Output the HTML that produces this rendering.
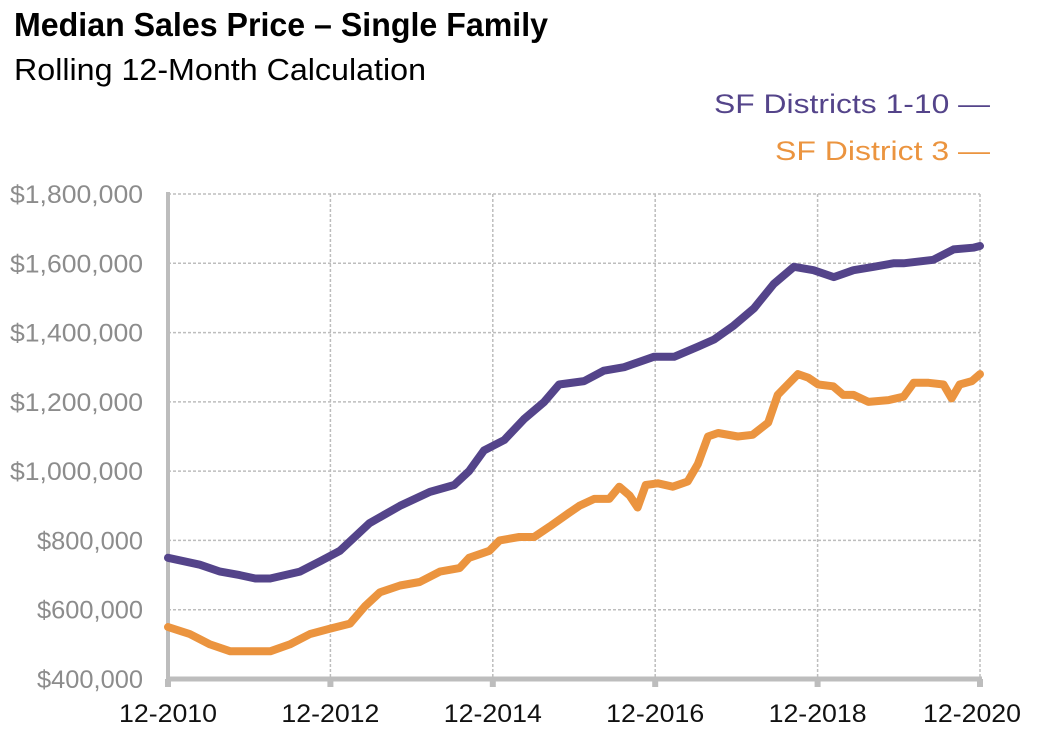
<!DOCTYPE html>
<html><head><meta charset="utf-8"><style>
html,body{margin:0;padding:0;background:#fff;}
svg{display:block;font-family:"Liberation Sans",Arial,sans-serif;}
</style></head><body>
<svg id="chart" width="1038" height="732" viewBox="0 0 1038 732">
<text x="14" y="36" font-size="33" font-weight="bold" textLength="534" lengthAdjust="spacingAndGlyphs">Median Sales Price – Single Family</text>
<text x="14" y="80" font-size="31" textLength="412" lengthAdjust="spacingAndGlyphs">Rolling 12-Month Calculation</text>
<g>
<text x="990" y="113" font-size="27" fill="#54448a" text-anchor="end" textLength="276" lengthAdjust="spacingAndGlyphs">SF Districts 1-10 —</text>
<text x="990" y="160" font-size="27" fill="#eb943f" text-anchor="end" textLength="215" lengthAdjust="spacingAndGlyphs">SF District 3 —</text>
</g>
<g id="grid"></g>
<g id="axes"></g>
<g id="series"></g>
</svg>
<script>
const yTicks=[400000,600000,800000,1000000,1200000,1400000,1600000,1800000];
const yTickLabels=["$400,000","$600,000","$800,000","$1,000,000","$1,200,000","$1,400,000","$1,600,000","$1,800,000"];
const xTicks=[0,24,48,72,96,120];
const xTickLabels=["12-2010","12-2012","12-2014","12-2016","12-2018","12-2020"];
const purpleMonths=[0,4.7,7.7,10.6,12.9,15.1,19.5,22.5,25.4,29.8,34.3,38.7,42.3,44.5,46.7,49.7,52.6,55.6,57.8,61.5,64.4,67.4,71.8,74.8,78.4,80.7,83.6,86.6,89.5,92.5,95.4,98.4,101.3,104.3,107.2,108.7,113.1,116.1,119.0,120];
const purpleValues=[750000,730000,710000,700000,690000,690000,710000,740000,770000,850000,900000,940000,960000,1000000,1060000,1090000,1150000,1200000,1250000,1260000,1290000,1300000,1330000,1330000,1360000,1380000,1420000,1470000,1540000,1590000,1580000,1560000,1580000,1590000,1600000,1600000,1610000,1640000,1645000,1650000];
const orangeMonths=[0,3.2,6.2,9.2,12.1,15.1,18.0,21.0,23.9,26.9,29.1,31.3,34.3,37.2,40.2,43.1,44.5,47.5,49.0,51.9,54.1,56.4,59.3,60.8,63.0,65.2,66.7,68.2,69.4,70.6,72.4,74.6,76.8,78.3,79.8,81.3,84.2,86.4,88.7,90.1,91.6,93.1,94.6,96.1,98.3,99.8,101.3,103.5,106.5,108.7,110.2,112.4,114.6,115.8,117.0,118.8,120];
const orangeValues=[550000,530000,500000,480000,480000,480000,500000,530000,545000,560000,610000,650000,670000,680000,710000,720000,750000,770000,800000,810000,810000,840000,880000,900000,920000,920000,955000,930000,895000,960000,965000,955000,970000,1020000,1100000,1110000,1100000,1105000,1140000,1220000,1250000,1280000,1270000,1250000,1245000,1220000,1220000,1200000,1205000,1215000,1255000,1255000,1250000,1210000,1250000,1260000,1280000];

const NS="http://www.w3.org/2000/svg";
const X0=168,X1=980,Y0=679,Y1=194;
const xs=m=>X0+(m/120)*(X1-X0);
const ys=v=>Y0-(v-400000)/(1800000-400000)*(Y0-Y1);
function mk(tag,attrs,parent){const e=document.createElementNS(NS,tag);for(const k in attrs)e.setAttribute(k,attrs[k]);parent.appendChild(e);return e;}
const grid=document.getElementById('grid'),axes=document.getElementById('axes'),series=document.getElementById('series');
yTicks.forEach((v,i)=>{
  if(i>0){const l=mk('line',{x1:X0,x2:X1,y1:ys(v),y2:ys(v),stroke:'#bdbdbd','stroke-width':1.5,'stroke-dasharray':'3,2'},grid);
  
  }
  const lab=yTickLabels[i];
  const t=mk('text',{x:143,y:ys(v)+9,'font-size':25,fill:'#8c8c8c','text-anchor':'end',textLength:(lab.length*13.3).toFixed(0),lengthAdjust:'spacingAndGlyphs'},axes);
  
  
  t.textContent=lab;
});
xTicks.forEach((m,i)=>{
  if(i>0){const l=mk('line',{x1:xs(m),x2:xs(m),y1:Y1,y2:Y0,stroke:'#bdbdbd','stroke-width':1.5,'stroke-dasharray':'3,2'},grid);
  
  }
  const tk=mk('line',{x1:xs(m),x2:xs(m),y1:Y0,y2:Y0+8,stroke:'#bdbdbd','stroke-width':6},axes);
  
  
  const t=mk('text',{x:i===5?xs(m)-8:xs(m),y:722,'font-size':25,fill:'#111','text-anchor':'middle',textLength:98,lengthAdjust:'spacingAndGlyphs'},axes);
  
  
  t.textContent=xTickLabels[i];
});
const ya=mk('line',{x1:X0,x2:X0,y1:Y1-2,y2:Y0+3,stroke:'#bdbdbd','stroke-width':4},axes);


const xa=mk('line',{x1:X0-2,x2:X1+2,y1:Y0,y2:Y0,stroke:'#bdbdbd','stroke-width':5},axes);


function drawLine(ms,vs,color,name){
  const d=ms.map((m,i)=>(i?'L':'M')+xs(m).toFixed(1)+','+ys(vs[i]).toFixed(1)).join('');
  const p=mk('path',{d:d,fill:'none',stroke:color,'stroke-width':8,'stroke-linejoin':'round','stroke-linecap':'round'},series);
  
  
}
drawLine(orangeMonths,orangeValues,'#eb943f','line-district-3');
drawLine(purpleMonths,purpleValues,'#54448a','line-districts-1-10');
</script>
</body></html>
